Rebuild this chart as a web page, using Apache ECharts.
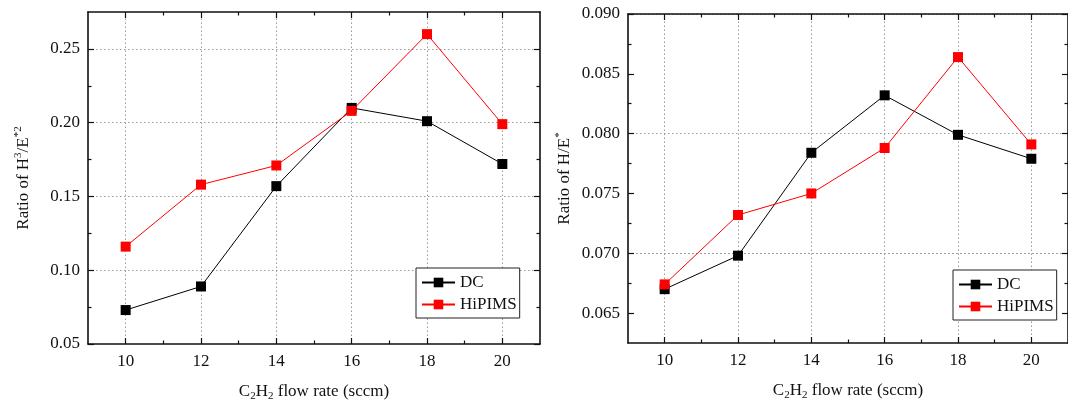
<!DOCTYPE html>
<html>
<head>
<meta charset="utf-8">
<script src="https://cdn.jsdelivr.net/npm/echarts@6/dist/echarts.min.js"></script>
<style>
  html, body { margin: 0; padding: 0; background: #fff; }
  #chart { width: 1068px; height: 407px; }
</style>
</head>
<body>
<div id="chart"></div>
<script>
// C2H2 flow rate (sccm)
const flowRates = [10, 12, 14, 16, 18, 20];

// H^3/E*^2 ratio
const h3e2DC = [0.073, 0.089, 0.157, 0.210, 0.201, 0.172];
const h3e2HiPIMS = [0.116, 0.158, 0.171, 0.208, 0.260, 0.199];

// H/E* ratio
const heDC = [0.0670, 0.0698, 0.0784, 0.0832, 0.0799, 0.0779];
const heHiPIMS = [0.0674, 0.0732, 0.0750, 0.0788, 0.0864, 0.0791];

// Tick positions
const xMajorTicks = [10, 12, 14, 16, 18, 20];
const xMinorTicks = [11, 13, 15, 17, 19];
const h3e2MajorTicks = [0.05, 0.10, 0.15, 0.20, 0.25];
const h3e2MinorTicks = [0.075, 0.125, 0.175, 0.225];
const heMajorTicks = [0.065, 0.070, 0.075, 0.080, 0.085, 0.090];
const heMinorTicks = [0.0675, 0.0725, 0.0775, 0.0825, 0.0875];

const FONT = 'Liberation Serif';
const INK = '#111';

const richText = {
  n: { fontFamily: FONT, fontSize: 17, color: INK },
  sup: { fontFamily: FONT, fontSize: 11, color: INK, padding: [0, 0, 11, 0] },
  sub: { fontFamily: FONT, fontSize: 11, color: INK, padding: [9, 0, 0, 0] }
};

// Four axes per direction: main + minor ticks on the labelled side, and a mirrored pair to close the frame.
function buildAxes(dim, gridIndex, min, max, major, minor, fmt, name, nameGap) {
  const near = dim === 'x' ? 'bottom' : 'left';
  const far = dim === 'x' ? 'top' : 'right';
  const base = {
    type: 'value', gridIndex, min, max,
    axisLine: { show: false, onZero: false },
    splitLine: { show: false },
    axisLabel: { show: false },
    axisTick: { show: false }
  };
  const tick = (vals, len) => ({
    show: true, inside: true, length: len, customValues: vals,
    lineStyle: { color: INK, width: 1.2 }
  });
  return [
    Object.assign({}, base, {
      position: near,
      axisLine: { show: true, onZero: false, lineStyle: { color: INK, width: 1.6 } },
      axisTick: tick(major, 6),
      axisLabel: {
        show: true, customValues: major, margin: dim === 'x' ? 9 : 8,
        fontFamily: FONT, fontSize: 17, color: INK,
        formatter: fmt
      },
      name, nameLocation: 'middle', nameGap,
      nameTextStyle: { rich: richText }
    }),
    Object.assign({}, base, { position: near, axisTick: tick(minor, 3.5) }),
    Object.assign({}, base, {
      position: far,
      axisLine: { show: true, onZero: false, lineStyle: { color: INK, width: 1.6 } },
      axisTick: tick(major, 6)
    }),
    Object.assign({}, base, { position: far, axisTick: tick(minor, 3.5) })
  ];
}

// Dotted grid lines at the interior major ticks only, kept beneath the data.
function gridLines(axisIndex, xs, ys) {
  return {
    type: 'line', data: [], silent: true, z: 0,
    xAxisIndex: axisIndex, yAxisIndex: axisIndex,
    markLine: {
      silent: true, symbol: 'none', animation: false, z: 0,
      label: { show: false },
      lineStyle: { color: '#9a9a9a', type: [1.5, 2.5], width: 1 },
      emphasis: { disabled: true },
      data: xs.map((v) => ({ xAxis: v })).concat(ys.map((v) => ({ yAxis: v })))
    }
  };
}

const pairs = (ys) => flowRates.map((x, i) => [x, ys[i]]);

function lineSeries(name, color, ys, axisIndex) {
  return {
    name, type: 'line', data: pairs(ys), z: 10,
    xAxisIndex: axisIndex, yAxisIndex: axisIndex,
    symbol: 'rect', symbolSize: 10,
    itemStyle: { color },
    lineStyle: { color, width: 1 },
    emphasis: { disabled: true },
    animation: false
  };
}

function legendAt(left, top) {
  return {
    left, top, orient: 'vertical', z: 20,
    data: ['DC', 'HiPIMS'],
    backgroundColor: '#fff',
    borderColor: '#222', borderWidth: 1,
    padding: [6, 3, 5, 5],
    itemGap: 5, itemWidth: 33, itemHeight: 12,
    textStyle: { fontFamily: FONT, fontSize: 17, color: INK, padding: [2, 0, 0, 0] },
    selectedMode: false
  };
}

const xName = '{n|C}{sub|2}{n|H}{sub|2}{n| flow rate (sccm)}';

const option = {
  backgroundColor: '#fff',
  textStyle: { fontFamily: FONT },
  animation: false,
  grid: [
    { left: 88, top: 12, width: 452, height: 333, containLabel: false },
    { left: 628, top: 14, width: 446, height: 329, containLabel: false }
  ],
  xAxis: [].concat(
    buildAxes('x', 0, 9, 21, xMajorTicks, xMinorTicks, (v) => String(v), xName, 38),
    buildAxes('x', 1, 9, 21, xMajorTicks, xMinorTicks, (v) => String(v), xName, 38)
  ),
  yAxis: [].concat(
    buildAxes('y', 0, 0.05, 0.275, h3e2MajorTicks, h3e2MinorTicks, (v) => v.toFixed(2),
      '{n|Ratio of H}{sup|3}{n|/E}{sup|*2}', 53),
    buildAxes('y', 1, 0.0625, 0.090, heMajorTicks, heMinorTicks, (v) => v.toFixed(3),
      '{n|Ratio of H/E}{sup|*}', 52)
  ),
  legend: [legendAt(416, 268), legendAt(953, 270)],
  series: [
    gridLines(0, xMajorTicks, h3e2MajorTicks.slice(1)),
    gridLines(4, xMajorTicks, heMajorTicks.slice(0, -1)),
    lineSeries('DC', '#000', h3e2DC, 0),
    lineSeries('HiPIMS', '#ff0000', h3e2HiPIMS, 0),
    lineSeries('DC', '#000', heDC, 4),
    lineSeries('HiPIMS', '#ff0000', heHiPIMS, 4)
  ]
};

const chart = echarts.init(document.getElementById('chart'), null, { renderer: 'canvas' });
chart.setOption(option);
</script>
</body>
</html>
